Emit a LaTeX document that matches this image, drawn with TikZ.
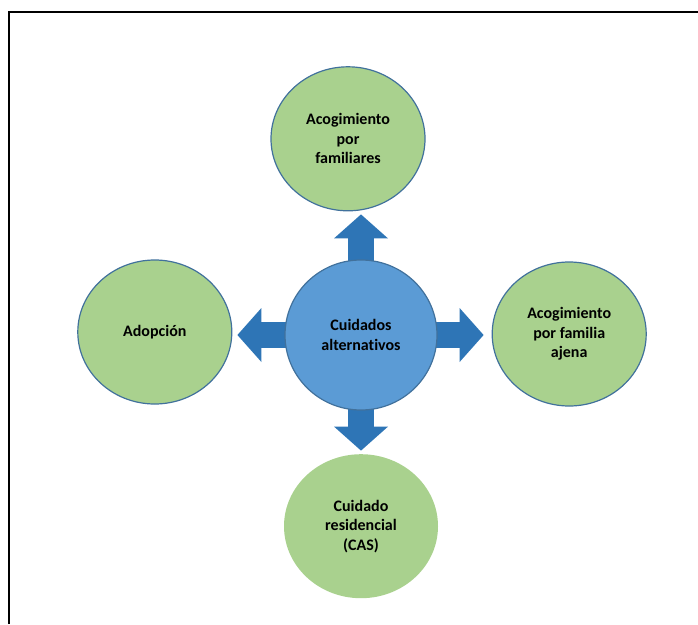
\documentclass[tikz,border=0pt]{standalone}
\usepackage{fontspec}
\setmainfont{Carlito}[Ligatures=NoCommon]
\usetikzlibrary{positioning, arrows.meta, shapes.geometric}
\definecolor{leafgreen}{RGB}{169,209,142}
\definecolor{careblue}{RGB}{91,155,213}
\definecolor{rimblue}{RGB}{65,113,156}
\definecolor{arrowblue}{RGB}{46,117,182}
\pgfdeclarelayer{back}
\pgfsetlayers{back,main}

\begin{document}
\begin{tikzpicture}[x=1pt, y=-1pt, font=\fontsize{16}{19.5}\selectfont\bfseries,
    bubble/.style={ellipse, fill=leafgreen, line width=1.2pt, inner sep=0pt, align=center, minimum width=154pt, minimum height=144pt},
    bigarrow/.style={draw=arrowblue, line width=26pt, -{Triangle[width=54pt, length=24pt, line width=0pt]}, shorten <=-8pt}]
    \useasboundingbox (0,0) rectangle (698,624);
    \draw[line width=2pt] (9,624) -- (9,12) -- (698,12);
    \node[draw=rimblue, ellipse, fill=careblue, line width=1.2pt, inner sep=0pt, align=center, minimum width=152pt, minimum height=150pt] (core) at (361,335) {Cuidados\\alternativos};
    \node[bubble, draw=rimblue, above=48pt of core, xshift=-13pt] (kin) {Acogimiento\\por\\familiares};
    \node[bubble, draw=rimblue, left=52pt of core, yshift=3pt] (adopt) {Adopción};
    \node[bubble, draw=rimblue, right=54pt of core, yshift=1pt] (foster) {Acogimiento\\por familia\\ajena};
    \node[bubble, below=43pt of core] (cas) {Cuidado\\residencial\\(CAS)};
    \begin{pgfonlayer}{back}
    \draw[bigarrow, shorten >=3pt] (core.north) -- (core.north |- kin.south);
    \draw[bigarrow, shorten >=5pt] (core.west) -- (core.west -| adopt.east);
    \draw[bigarrow, shorten >=8pt] (core.east) -- (core.east -| foster.west);
    \draw[bigarrow, shorten >=3pt] (core.south) -- (core.south |- cas.north);
    \end{pgfonlayer}
\end{tikzpicture}
\end{document}
